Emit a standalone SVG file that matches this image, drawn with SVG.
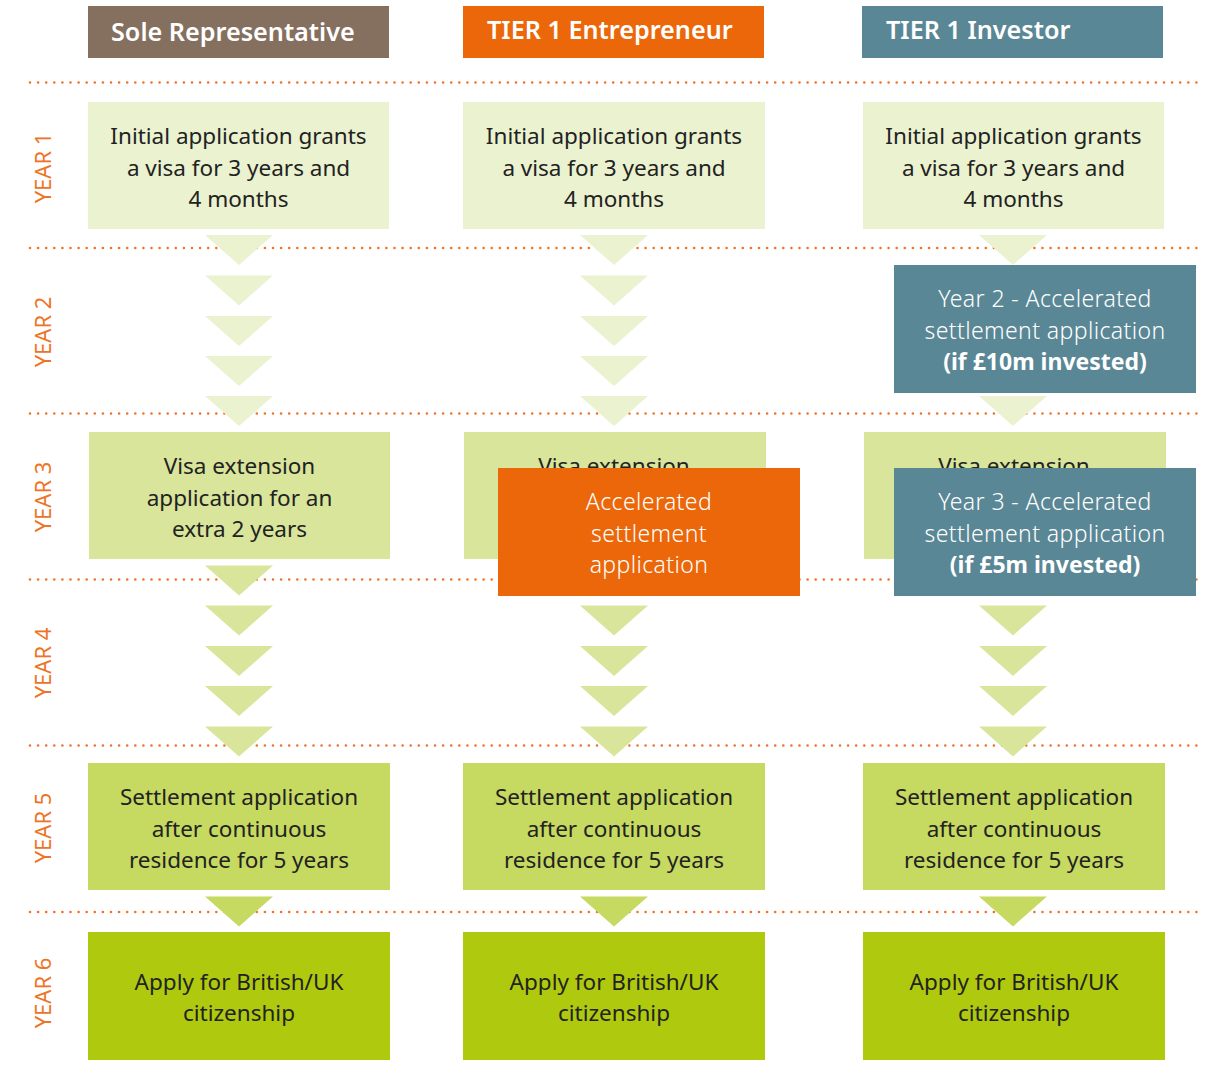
<svg xmlns="http://www.w3.org/2000/svg" width="1205" height="1074" viewBox="0 0 1205 1074">
<defs>
<style>
.dot{stroke:#EE7324;stroke-width:2.6;stroke-linecap:round;stroke-dasharray:0 8.1;fill:none}
.yr{font-family:"Noto Sans",Lato,sans-serif;font-size:22px;fill:#EE7324;text-anchor:middle}
.hd{font-family:"Noto Sans",Lato,sans-serif;font-weight:600;font-size:25.2px;fill:#fff}
.tx{font-family:"Noto Sans",Lato,sans-serif;font-size:22.5px;fill:#222;text-anchor:middle}
.tw{font-family:"Noto Sans",Lato,sans-serif;font-size:23px;letter-spacing:0.4px;fill:#fff;text-anchor:middle;font-weight:300}
.twb{font-weight:bold;letter-spacing:0}
.c1{fill:#EBF2D0}.c3{fill:#D9E59B}.c5{fill:#C6D960}.c6{fill:#AFC90E}
.or{fill:#EB6709}.tl{fill:#5A8795}.br{fill:#857060}
</style>
<path id="tri" d="M-34 0H34L0 30Z"/>
</defs>
<g id="gridlines">
<line class="dot" x1="30" y1="82.5" x2="1197" y2="82.5"/>
<line class="dot" x1="30" y1="248" x2="1197" y2="248"/>
<line class="dot" x1="30" y1="413.5" x2="1197" y2="413.5"/>
<line class="dot" x1="30" y1="579.5" x2="1197" y2="579.5"/>
<line class="dot" x1="30" y1="745.5" x2="1197" y2="745.5"/>
<line class="dot" x1="30" y1="912" x2="1197" y2="912"/>
</g>
<g id="year-labels">
<text class="yr" transform="translate(51,168) rotate(-90)">YEAR 1</text>
<text class="yr" transform="translate(51,332) rotate(-90)">YEAR 2</text>
<text class="yr" transform="translate(51,497) rotate(-90)">YEAR 3</text>
<text class="yr" transform="translate(51,663) rotate(-90)">YEAR 4</text>
<text class="yr" transform="translate(51,828) rotate(-90)">YEAR 5</text>
<text class="yr" transform="translate(51,993) rotate(-90)">YEAR 6</text>
</g>
<g id="headers">
<g id="h-sole"><rect class="br" x="88" y="6" width="301" height="52"/><text class="hd" x="111" y="41">Sole Representative</text></g>
<g id="h-entre"><rect class="or" x="463" y="6" width="301" height="52"/><text class="hd" x="487" y="39">TIER 1 Entrepreneur</text></g>
<g id="h-inv"><rect class="tl" x="862" y="6" width="301" height="52"/><text class="hd" x="886" y="39">TIER 1 Investor</text></g>
</g>
<g id="connectors">
<g class="c1">
<use href="#tri" x="239" y="235"/><use href="#tri" x="239" y="275.5"/><use href="#tri" x="239" y="316"/><use href="#tri" x="239" y="356"/><use href="#tri" x="239" y="396"/>
<use href="#tri" x="614" y="235"/><use href="#tri" x="614" y="275.5"/><use href="#tri" x="614" y="316"/><use href="#tri" x="614" y="356"/><use href="#tri" x="614" y="396"/>
<use href="#tri" x="1013" y="235"/><use href="#tri" x="1013" y="396"/>
</g>
<g class="c3">
<use href="#tri" x="239" y="565.5"/><use href="#tri" x="239" y="605.5"/><use href="#tri" x="239" y="646"/><use href="#tri" x="239" y="686"/><use href="#tri" x="239" y="726.5"/>
<use href="#tri" x="614" y="605.5"/><use href="#tri" x="614" y="646"/><use href="#tri" x="614" y="686"/><use href="#tri" x="614" y="726.5"/>
<use href="#tri" x="1013" y="605.5"/><use href="#tri" x="1013" y="646"/><use href="#tri" x="1013" y="686"/><use href="#tri" x="1013" y="726.5"/>
</g>
<g class="c5">
<use href="#tri" x="239" y="896.5"/><use href="#tri" x="614" y="896.5"/><use href="#tri" x="1013" y="896.5"/>
</g>
</g>
<g id="y1-sole"><rect class="c1" x="88" y="102" width="301" height="127"/><text class="tx"><tspan x="238.5" y="144">Initial application grants</tspan><tspan x="238.5" y="175.5">a visa for 3 years and</tspan><tspan x="238.5" y="206.5">4 months</tspan></text></g>
<g id="y1-entre"><rect class="c1" x="463" y="102" width="302" height="127"/><text class="tx"><tspan x="614" y="144">Initial application grants</tspan><tspan x="614" y="175.5">a visa for 3 years and</tspan><tspan x="614" y="206.5">4 months</tspan></text></g>
<g id="y1-inv"><rect class="c1" x="863" y="102" width="301" height="127"/><text class="tx"><tspan x="1013.5" y="144">Initial application grants</tspan><tspan x="1013.5" y="175.5">a visa for 3 years and</tspan><tspan x="1013.5" y="206.5">4 months</tspan></text></g>
<g id="y2-inv"><rect class="tl" x="894" y="265" width="302" height="128"/><text class="tw"><tspan x="1045" y="307">Year 2 - Accelerated</tspan><tspan x="1045" y="338.5">settlement application</tspan><tspan x="1045" y="370" class="twb">(if £10m invested)</tspan></text></g>
<g id="y3-sole"><rect class="c3" x="89" y="432" width="301" height="127"/><text class="tx"><tspan x="239.5" y="474">Visa extension</tspan><tspan x="239.5" y="505.5">application for an</tspan><tspan x="239.5" y="537">extra 2 years</tspan></text></g>
<g id="y3-entre"><rect class="c3" x="464" y="432" width="302" height="127"/><text class="tx" x="614" y="474">Visa extension</text></g>
<g id="y3-inv"><rect class="c3" x="864" y="432" width="302" height="127"/><text class="tx" x="1014" y="474">Visa extension</text></g>
<g id="y3-entre-acc"><rect class="or" x="498" y="468" width="302" height="128"/><text class="tw"><tspan x="649" y="510">Accelerated</tspan><tspan x="649" y="541.5">settlement</tspan><tspan x="649" y="573">application</tspan></text></g>
<g id="y3-inv-acc"><rect class="tl" x="894" y="468" width="302" height="128"/><text class="tw"><tspan x="1045" y="510">Year 3 - Accelerated</tspan><tspan x="1045" y="541.5">settlement application</tspan><tspan x="1045" y="573" class="twb">(if £5m invested)</tspan></text></g>
<g id="y5-sole"><rect class="c5" x="88" y="763" width="302" height="127"/><text class="tx"><tspan x="239" y="805">Settlement application</tspan><tspan x="239" y="836.5">after continuous</tspan><tspan x="239" y="868">residence for 5 years</tspan></text></g>
<g id="y5-entre"><rect class="c5" x="463" y="763" width="302" height="127"/><text class="tx"><tspan x="614" y="805">Settlement application</tspan><tspan x="614" y="836.5">after continuous</tspan><tspan x="614" y="868">residence for 5 years</tspan></text></g>
<g id="y5-inv"><rect class="c5" x="863" y="763" width="302" height="127"/><text class="tx"><tspan x="1014" y="805">Settlement application</tspan><tspan x="1014" y="836.5">after continuous</tspan><tspan x="1014" y="868">residence for 5 years</tspan></text></g>
<g id="y6-sole"><rect class="c6" x="88" y="932" width="302" height="128"/><text class="tx"><tspan x="239" y="990">Apply for British/UK</tspan><tspan x="239" y="1021">citizenship</tspan></text></g>
<g id="y6-entre"><rect class="c6" x="463" y="932" width="302" height="128"/><text class="tx"><tspan x="614" y="990">Apply for British/UK</tspan><tspan x="614" y="1021">citizenship</tspan></text></g>
<g id="y6-inv"><rect class="c6" x="863" y="932" width="302" height="128"/><text class="tx"><tspan x="1014" y="990">Apply for British/UK</tspan><tspan x="1014" y="1021">citizenship</tspan></text></g>
</svg>
